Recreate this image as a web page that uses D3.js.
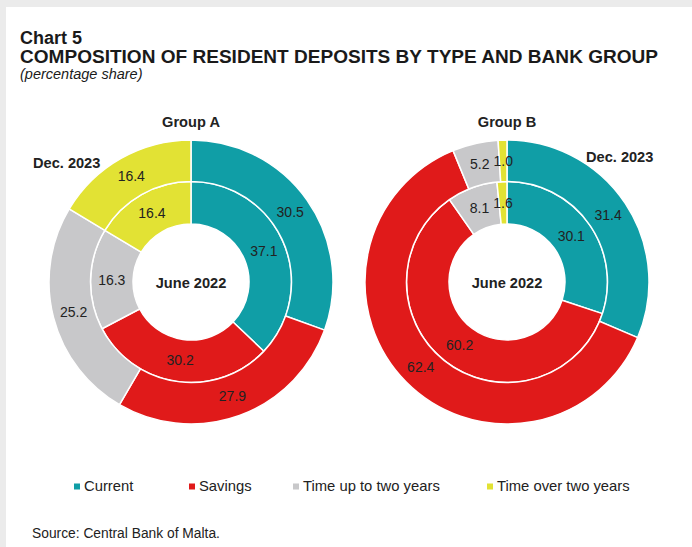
<!DOCTYPE html>
<html>
<head>
<meta charset="utf-8">
<script src="https://cdn.jsdelivr.net/npm/d3@7"></script>
<style>
  body { margin: 0; background: #ebebeb; }
  svg { display: block; font-family: "Liberation Sans", Arial, sans-serif; }
</style>
</head>
<body>
<script>
// categories and colours
var categories = ["Current", "Savings", "Time up to two years", "Time over two years"];
var colors = ["#109ea6", "#e01a1a", "#c8c8ca", "#e2e234"];

// inner ring = June 2022, outer ring = Dec. 2023
var groupAJune = [37.1, 30.2, 16.3, 16.4];
var groupADec = [30.5, 27.9, 25.2, 16.4];
var groupBJune = [30.1, 60.2, 8.1, 1.6];
var groupBDec = [31.4, 62.4, 5.2, 1.0];

var width = 692, height = 547;

var svg = d3.select("body").append("svg")
  .attr("width", width)
  .attr("height", height);

// white card, grey frame shows at top and left
svg.append("rect")
  .attr("x", 6).attr("y", 7)
  .attr("width", width - 6).attr("height", height - 7)
  .attr("fill", "#fff");

// titles
svg.append("text").attr("x", 20).attr("y", 44)
  .attr("font-size", 18).attr("font-weight", "bold").attr("fill", "#1a1a1a")
  .text("Chart 5");
svg.append("text").attr("x", 20).attr("y", 63)
  .attr("font-size", 18).attr("font-weight", "bold").attr("fill", "#1a1a1a")
  .attr("textLength", 638).attr("lengthAdjust", "spacingAndGlyphs")
  .text("COMPOSITION OF RESIDENT DEPOSITS BY TYPE AND BANK GROUP");
svg.append("text").attr("x", 20).attr("y", 79)
  .attr("font-size", 14.5).attr("font-style", "italic").attr("fill", "#1a1a1a")
  .text("(percentage share)");

var pie = d3.pie().sort(null).value(function(d) { return d; });

var innerArc = d3.arc().innerRadius(58).outerRadius(100.5);
var outerArc = d3.arc().innerRadius(100.5).outerRadius(142);

function drawDonut(cx, cy, june, dec, name, decPos) {
  var g = svg.append("g").attr("transform", "translate(" + cx + "," + cy + ")");

  [[june, innerArc], [dec, outerArc]].forEach(function(ring) {
    var arcs = pie(ring[0]);
    g.selectAll(null).data(arcs).enter().append("path")
      .attr("d", ring[1])
      .attr("fill", function(d, i) { return colors[i]; })
      .attr("stroke", "#fff")
      .attr("stroke-width", 1.5);
    g.selectAll(null).data(arcs).enter().append("text")
      .attr("transform", function(d) { return "translate(" + ring[1].centroid(d) + ")"; })
      .attr("text-anchor", "middle")
      .attr("dy", "0.35em")
      .attr("font-size", 14)
      .attr("fill", "#222")
      .text(function(d) { return d3.format(".1f")(d.data); });
  });

  g.append("text").attr("y", 6)
    .attr("text-anchor", "middle").attr("font-size", 14.6).attr("font-weight", "bold")
    .attr("fill", "#222").text("June 2022");

  g.append("text").attr("y", -155)
    .attr("text-anchor", "middle").attr("font-size", 14.6).attr("font-weight", "bold")
    .attr("fill", "#222").text(name);

  g.append("text").attr("x", decPos[0]).attr("y", decPos[1])
    .attr("font-size", 14.6).attr("font-weight", "bold")
    .attr("fill", "#222").text("Dec. 2023");
}

drawDonut(191, 282, groupAJune, groupADec, "Group A", [-158, -114]);
drawDonut(507, 282, groupBJune, groupBDec, "Group B", [79, -120]);

// legend
var legendX = [74, 189, 293, 487];
var legend = svg.selectAll(".leg").data(categories).enter().append("g")
  .attr("transform", function(d, i) { return "translate(" + legendX[i] + ",486)"; });
legend.append("rect").attr("x", 0).attr("y", -2.5).attr("width", 6).attr("height", 6)
  .attr("fill", function(d, i) { return colors[i]; });
legend.append("text").attr("x", 10).attr("y", 5.2)
  .attr("font-size", 14.8).attr("fill", "#222")
  .text(function(d) { return d; });

svg.append("text").attr("x", 32).attr("y", 538)
  .attr("font-size", 13.8).attr("fill", "#222")
  .text("Source: Central Bank of Malta.");
</script>
</body>
</html>
